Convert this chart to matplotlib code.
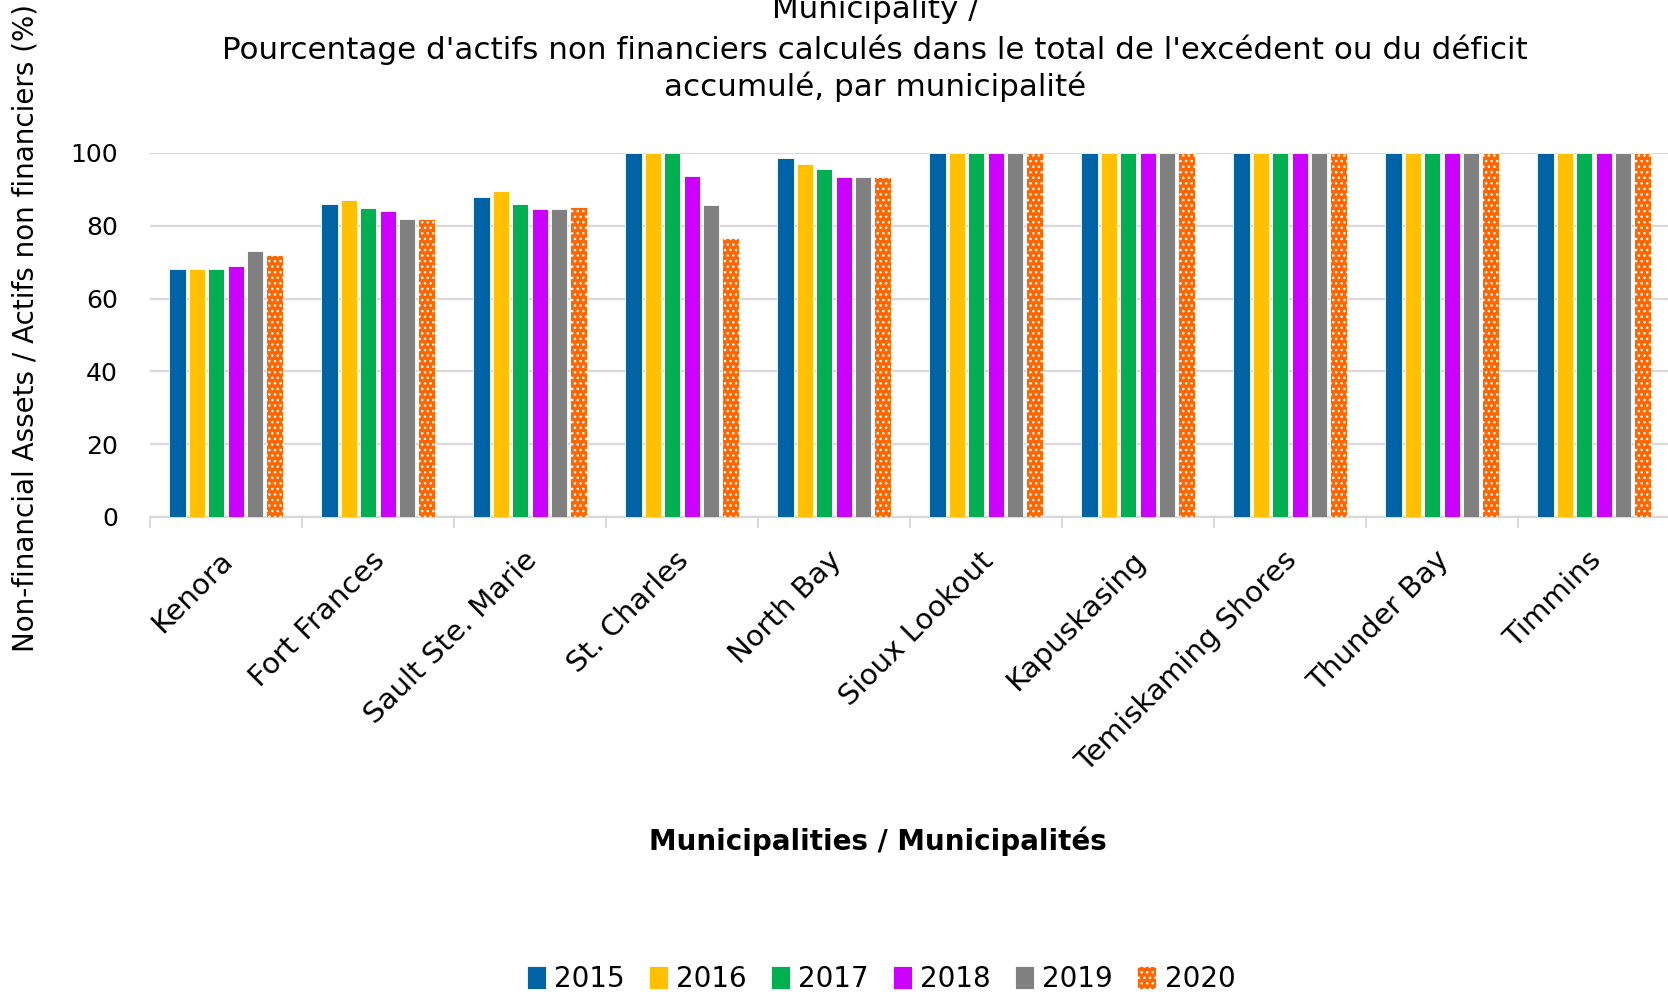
import numpy as np
import matplotlib
matplotlib.use("Agg")
import matplotlib.pyplot as plt
import matplotlib.transforms as mtransforms

plt.rcParams['font.family'] = ['DejaVu Sans']

municipalities = ['Kenora', 'Fort Frances', 'Sault Ste. Marie', 'St. Charles', 'North Bay',
                  'Sioux Lookout', 'Kapuskasing', 'Temiskaming Shores', 'Thunder Bay', 'Timmins']
years = ['2015', '2016', '2017', '2018', '2019', '2020']

v2015 = [68, 86, 88, 100, 98.5, 100, 100, 100, 100, 100]
v2016 = [68, 87, 89.5, 100, 97, 100, 100, 100, 100, 100]
v2017 = [68, 85, 86, 100, 95.5, 100, 100, 100, 100, 100]
v2018 = [69, 84, 84.5, 93.6, 93.5, 100, 100, 100, 100, 100]
v2019 = [73, 82, 84.5, 85.7, 93.5, 100, 100, 100, 100, 100]
v2020 = [72, 82, 85.2, 76.6, 93.5, 100, 100, 100, 100, 100]

colors = ['#0063A5', '#FFC000', '#00B050', '#CC00FF', '#808080', '#FF6600']

fig = plt.figure(figsize=(16.68, 9.94), dpi=100)
ax = fig.add_axes([150 / 1668, 1 - 517 / 994, 1520 / 1668, 364 / 994])

x = np.arange(len(municipalities))
slot = 0.128
width = 0.108
series = [v2015, v2016, v2017, v2018, v2019, v2020]
for i, (vals, c, yr) in enumerate(zip(series, colors, years)):
    off = (i - 2.5) * slot
    if yr == '2020':
        ax.bar(x + off, vals, width, color=c, edgecolor='white', linewidth=0.6,
               hatch='...', label=yr, zorder=3)
    else:
        ax.bar(x + off, vals, width, color=c, edgecolor='white', linewidth=0.6,
               label=yr, zorder=3)

ax.set_xlim(-0.5, len(municipalities) - 0.5)
ax.set_ylim(0, 100)
ax.set_yticks(range(0, 101, 20))
ax.yaxis.grid(True, color='#d9d9d9', linewidth=1.6, zorder=0)
ax.tick_params(axis='y', length=0, labelsize=18, pad=23)

# category labels at centres, tick marks at boundaries
ax.set_xticks(x)
ax.set_xticklabels(municipalities, rotation=45, ha='right', rotation_mode='anchor', fontsize=21)
ax.tick_params(axis='x', which='major', length=0, pad=21)
shift = mtransforms.ScaledTranslation(-0.07, 0, fig.dpi_scale_trans)
for lab in ax.get_xticklabels():
    lab.set_transform(lab.get_transform() + shift)
ax.set_xticks(np.arange(-0.5, len(municipalities)), minor=True)
ax.tick_params(axis='x', which='minor', length=8, width=1.4, color='#d9d9d9')

for s in ['top', 'right', 'left']:
    ax.spines[s].set_visible(False)
ax.spines['bottom'].set_color('#d9d9d9')
ax.spines['bottom'].set_linewidth(1.6)

fig.text(875 / 1668, 1 - 9 / 994, 'Municipality /', ha='center', va='center', fontsize=22.3)
fig.text(875 / 1668, 1 - 50 / 994,
         "Pourcentage d'actifs non financiers calculés dans le total de l'excédent ou du déficit",
         ha='center', va='center', fontsize=22.3)
fig.text(875 / 1668, 1 - 87 / 994, 'accumulé, par municipalité', ha='center', va='center', fontsize=22.3)

fig.text(878 / 1668, 1 - 841 / 994, 'Municipalities / Municipalités', ha='center', va='center',
         fontsize=20, fontweight='bold')
fig.text(26 / 1668, 1 - 328 / 994, 'Non-financial Assets / Actifs non financiers (%)',
         ha='center', va='center', rotation=90, fontsize=20)

fig.legend(loc='center', bbox_to_anchor=(881 / 1668, 1 - 979 / 994), ncol=6, frameon=False,
           fontsize=20, handlelength=0.7, handleheight=0.9, handletextpad=0.3, columnspacing=0.85)

fig.savefig('out.png', dpi=100)
